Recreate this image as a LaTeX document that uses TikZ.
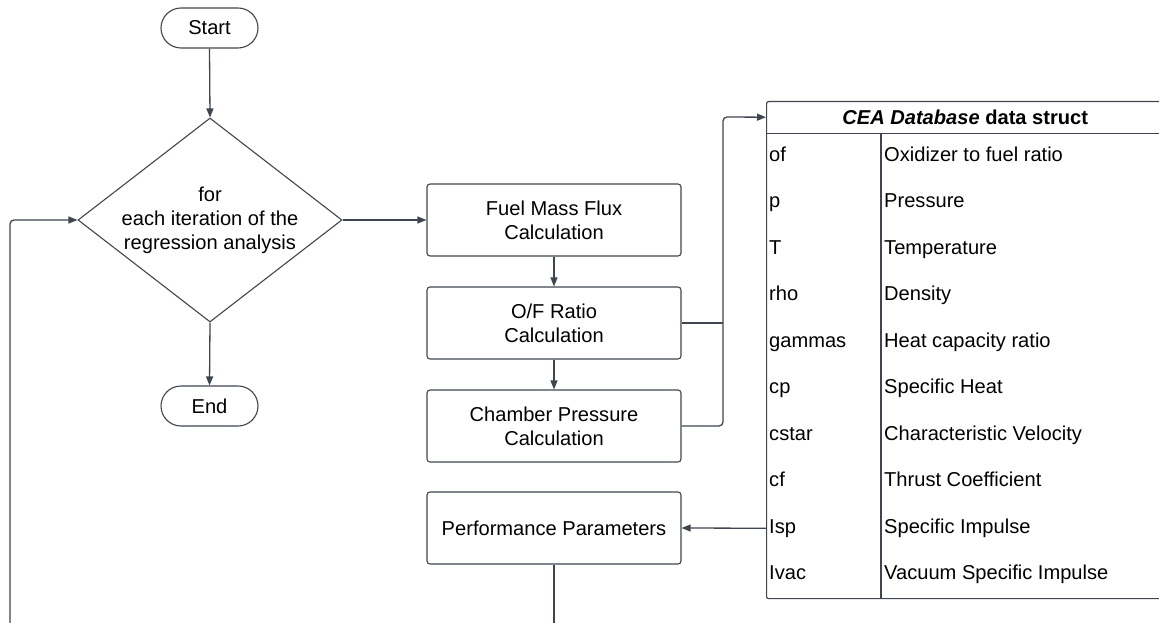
\documentclass[tikz,border=0pt]{standalone}
\usepackage{fontspec}
\setmainfont{Liberation Sans}
\usetikzlibrary{shapes.geometric,shapes.misc,arrows.meta}
\definecolor{edge}{HTML}{3F4650}
\begin{document}
\begin{tikzpicture}[x=1pt,y=-1pt,
  every node/.style={font=\fontsize{20.1}{24}\selectfont, text=black},
  terminal/.style={draw=edge, line width=1.1pt, rounded rectangle, minimum width=97pt, minimum height=40pt, inner sep=0pt},
  decision/.style={draw=edge, line width=1.1pt, diamond, shape aspect=1.294, minimum width=264pt, minimum height=204pt, inner sep=0pt, align=center},
  process/.style={draw=edge, line width=1.1pt, rectangle, rounded corners=3pt, minimum width=254pt, minimum height=72pt, align=center},
  flow/.style={draw=edge, line width=1.3pt, -{Triangle[length=9pt,width=7pt]}},
  wire/.style={draw=edge, line width=1.3pt},
  tline/.style={draw=edge, line width=1.2pt},
  cell/.style={anchor=west, inner sep=3pt, text height=14pt, text depth=4pt}
]
\useasboundingbox (0,0) rectangle (1159,623);
\clip (0,0) rectangle (1159,623);

% main flow
\node[terminal] (start) at (209.5,28) {Start};
\node[decision] (dec) at (210,220) {for\\each iteration of the\\regression analysis};
\node[terminal] (end) at (209.5,406) {End};
\node[process] (fmf) at (554,220) {Fuel Mass Flux\\Calculation};
\node[process] (ofr) at (554,323) {O/F Ratio\\Calculation};
\node[process] (pc) at (554,426) {Chamber Pressure\\Calculation};
\node[process] (perf) at (554,528) {Performance Parameters};

% CEA data structure table
\node[draw=edge, line width=1.2pt, rectangle, rounded corners=2pt, anchor=north west,
      minimum width=398pt, minimum height=497pt, inner sep=0pt] (tbl) at (766,101) {};
\node[anchor=north west, minimum width=398pt, minimum height=32pt, inner sep=0pt] (hdr) at (766,101)
  {\textbf{\textit{CEA Database} data struct}};
\draw[tline] (hdr.south west) -- (hdr.south east);
\draw[tline] (881,133) -- (881,598);
\foreach \key/\desc/\nm [count=\i from 0] in {
  of/Oxidizer to fuel ratio/rof,
  p/Pressure/rp,
  T/Temperature/rT,
  rho/Density/rrho,
  gammas/Heat capacity ratio/rgam,
  cp/Specific Heat/rcp,
  cstar/Characteristic Velocity/rcstar,
  cf/Thrust Coefficient/rcf,
  Isp/Specific Impulse/risp,
  Ivac/Vacuum Specific Impulse/rivac} {
  \node[cell] (\nm) at (766,156.25+46.5*\i) {\key};
  \node[cell] (\nm-d) at (881,156.25+46.5*\i) {\desc};
}

% connectors
\draw[flow] (start.south) -- (dec.north);
\draw[flow] (dec.south) -- (end.north);
\draw[flow] (dec.east) -- (fmf.west);
\draw[flow] (fmf.south) -- (ofr.north);
\draw[flow] (ofr.south) -- (pc.north);
\coordinate (bus) at (723,117);
\draw[flow, rounded corners=4pt] (pc.east) -| (bus) -- (hdr.west);
\draw[wire] (ofr.east) -- (ofr.east -| bus);
\draw[flow] (risp.west) -- (perf.east);
\coordinate (loopin) at (10,640);
\draw[flow, rounded corners=4pt] (loopin) |- (dec.west);
\coordinate (perfout) at (554,640);
\draw[wire] (perf.south) -- (perfout);
\end{tikzpicture}
\end{document}
